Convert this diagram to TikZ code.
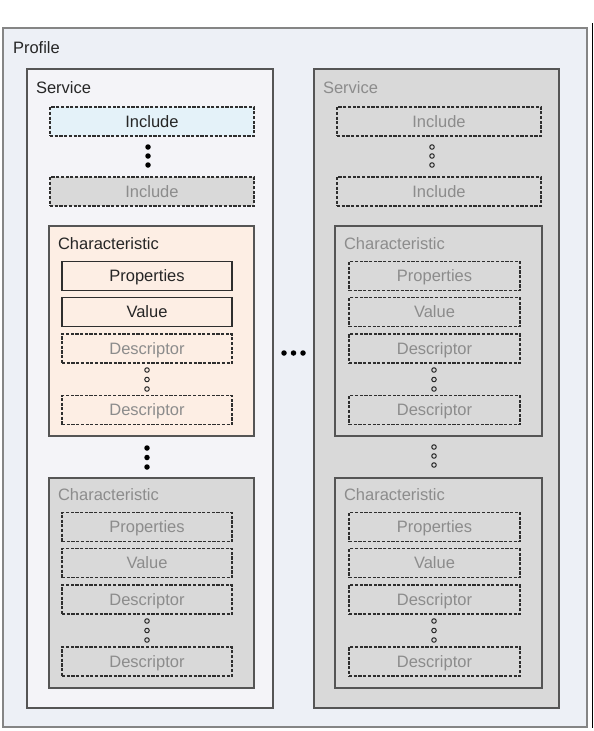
\documentclass[tikz,border=0pt]{standalone}
\usepackage{fontspec}
\setmainfont{Liberation Sans}
\definecolor{profilefill}{HTML}{EDF0F6}
\definecolor{servfill}{HTML}{F4F4F8}
\definecolor{grayfill}{HTML}{D9D9D9}
\definecolor{inclfill}{HTML}{E4F2F9}
\definecolor{charfill}{HTML}{FDEEE4}
\definecolor{darktext}{HTML}{262626}
\definecolor{graytext}{HTML}{8C8C8C}
\definecolor{profileline}{HTML}{858585}
\definecolor{boxline}{HTML}{555555}
\definecolor{dashline}{HTML}{2E2E2E}
\newcommand{\diagfont}{\fontsize{16.5}{19}\selectfont}
\tikzset{
  every node/.style={inner sep=0pt, outer sep=0pt},
  txt/.style={font=\diagfont, text height=11.8pt, text depth=0pt},
  lbl/.style={txt, anchor=west, text=#1},
  lbl/.default=darktext,
  profilebox/.style={draw=profileline, fill=profilefill, line width=1.2pt},
  servbox/.style={draw=boxline, line width=1.4pt, minimum width=246pt, minimum height=639pt},
  charbox/.style={draw=boxline, line width=1.4pt, minimum height=210pt},
  solidbox/.style={txt, draw=dashline, line width=1.5pt, minimum height=29pt, text=darktext},
  dashbox/.style={txt, draw=dashline, line width=1.6pt, dash pattern=on 3.2pt off 1.5pt, minimum height=29pt},
  bdot/.style={circle, fill=black, minimum size=5.5pt},
  hdot/.style={circle, draw=black!85, line width=1pt, minimum size=4.5pt},
}
\begin{document}
\begin{tikzpicture}[x=1pt,y=-1pt]
\useasboundingbox (0,0) rectangle (594,731);
% profile
\node[profilebox, minimum width=584pt, minimum height=699pt] (profile) at (295,377.5) {};
\node[lbl] (profilelbl) at (13,48) {Profile};
\coordinate (edgetop) at (592,23);
\coordinate (edgebot) at (592,728);
\draw[black, line width=1pt] (edgetop) -- (edgebot);

% left service
\node[servbox, fill=servfill] (servL) at (150,388.5) {};
\node[lbl] (servLlbl) at (36,88) {Service};
\node[dashbox, fill=inclfill, minimum width=204pt, text=darktext] (inclL1) at (152,121.5) {Include};
\node[bdot] (idL1) at (148,147) {};
\node[bdot] (idL2) at (148,156) {};
\node[bdot] (idL3) at (148,165) {};
\node[dashbox, fill=grayfill, minimum width=204pt, text=graytext] (inclL2) at (152,191.5) {Include};

% left characteristic 1
\node[charbox, fill=charfill, minimum width=205pt] (charL1) at (151.5,331) {};
\node[lbl] (charL1lbl) at (58,244) {Characteristic};
\node[solidbox, minimum width=170pt] (propL1) at (147,276) {Properties};
\node[solidbox, minimum width=170pt] (valL1) at (147,312) {Value};
\node[dashbox, minimum width=170pt, text=graytext] (descL1a) at (147,348.5) {Descriptor};
\node[hdot] (cL1a) at (147,370) {};
\node[hdot] (cL1b) at (147,379.5) {};
\node[hdot] (cL1c) at (147,389) {};
\node[dashbox, minimum width=170pt, text=graytext] (descL1b) at (147,410) {Descriptor};

\node[bdot] (cdL1) at (147,448) {};
\node[bdot] (cdL2) at (147,457.5) {};
\node[bdot] (cdL3) at (147,467) {};

% left characteristic 2
\node[charbox, fill=grayfill, minimum width=205pt] (charL2) at (151.5,583) {};
\node[lbl=graytext] (charL2lbl) at (58,495) {Characteristic};
\node[dashbox, minimum width=170pt, text=graytext] (propL2) at (147,527) {Properties};
\node[dashbox, minimum width=170pt, text=graytext] (valL2) at (147,563) {Value};
\node[dashbox, minimum width=170pt, text=graytext] (descL2a) at (147,599.5) {Descriptor};
\node[hdot] (cL2a) at (147,621) {};
\node[hdot] (cL2b) at (147,630.5) {};
\node[hdot] (cL2c) at (147,640) {};
\node[dashbox, minimum width=170pt, text=graytext] (descL2b) at (147,661.5) {Descriptor};

% horizontal dots
\node[bdot] (hd1) at (284,353) {};
\node[bdot] (hd2) at (293.5,353) {};
\node[bdot] (hd3) at (303,353) {};

% right service
\node[servbox, fill=grayfill, minimum width=245pt] (servR) at (436.5,388.5) {};
\node[lbl=graytext] (servRlbl) at (323,88) {Service};
\node[dashbox, fill=grayfill, minimum width=204pt, text=graytext] (inclR1) at (439,121.5) {Include};
\node[hdot] (idR1) at (432,147) {};
\node[hdot] (idR2) at (432,156) {};
\node[hdot] (idR3) at (432,165) {};
\node[dashbox, fill=grayfill, minimum width=204pt, text=graytext] (inclR2) at (439,191.5) {Include};

% right characteristic 1
\node[charbox, fill=grayfill, minimum width=207pt] (charR1) at (438.5,331) {};
\node[lbl=graytext] (charR1lbl) at (344,244) {Characteristic};
\node[dashbox, minimum width=171pt, text=graytext] (propR1) at (434.5,276) {Properties};
\node[dashbox, minimum width=171pt, text=graytext] (valR1) at (434.5,312) {Value};
\node[dashbox, minimum width=171pt, text=graytext] (descR1a) at (434.5,348.5) {Descriptor};
\node[hdot] (cR1a) at (434,370) {};
\node[hdot] (cR1b) at (434,379.5) {};
\node[hdot] (cR1c) at (434,389) {};
\node[dashbox, minimum width=171pt, text=graytext] (descR1b) at (434.5,410) {Descriptor};

\node[hdot] (cdR1) at (434,447) {};
\node[hdot] (cdR2) at (434,456) {};
\node[hdot] (cdR3) at (434,465) {};

% right characteristic 2
\node[charbox, fill=grayfill, minimum width=207pt] (charR2) at (438.5,583) {};
\node[lbl=graytext] (charR2lbl) at (344,495) {Characteristic};
\node[dashbox, minimum width=171pt, text=graytext] (propR2) at (434.5,527) {Properties};
\node[dashbox, minimum width=171pt, text=graytext] (valR2) at (434.5,563) {Value};
\node[dashbox, minimum width=171pt, text=graytext] (descR2a) at (434.5,599.5) {Descriptor};
\node[hdot] (cR2a) at (434,621) {};
\node[hdot] (cR2b) at (434,630.5) {};
\node[hdot] (cR2c) at (434,640) {};
\node[dashbox, minimum width=171pt, text=graytext] (descR2b) at (434.5,661.5) {Descriptor};
\end{tikzpicture}
\end{document}
